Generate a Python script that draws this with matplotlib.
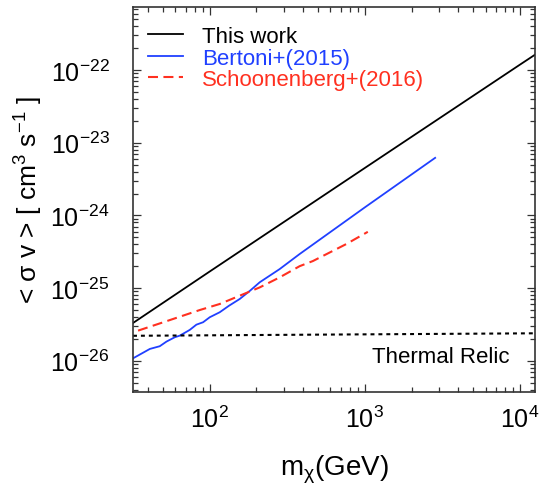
import matplotlib
matplotlib.use("Agg")
import matplotlib.pyplot as plt
import numpy as np
from matplotlib.ticker import FixedLocator, NullFormatter, LogFormatterSciNotation

plt.rcParams['font.family'] = ['Liberation Sans', 'DejaVu Sans']
plt.rcParams['mathtext.fontset'] = 'custom'
plt.rcParams['mathtext.rm'] = 'Liberation Sans'
plt.rcParams['mathtext.it'] = 'Liberation Sans:italic'
plt.rcParams['mathtext.bf'] = 'Liberation Sans:bold'
plt.rcParams['mathtext.sf'] = 'Liberation Sans'

# Data (GeV, cm^3 s^-1)
this_work_m = [32, 100, 1000, 10000, 12500]
this_work_sv = [3.3e-26, 1.69e-25, 4.5e-24, 1.19e-22, 1.63e-22]

bertoni_m = [32.1, 41.1, 47.6, 52.6, 59.5, 64.1, 74.3, 82.0, 90.6, 100, 116, 133, 156, 182, 210,
             282, 380, 1000, 2840]
bertoni_sv = [1.08e-26, 1.45e-26, 1.58e-26, 1.83e-26, 2.10e-26, 2.21e-26, 2.65e-26, 3.13e-26, 3.38e-26,
              3.96e-26, 4.64e-26, 5.7e-26, 7.06e-26, 9.2e-26, 1.20e-25,
              1.82e-25, 2.94e-25, 1.29e-24, 6.2e-24]

schoon_m = [34.5, 50.0, 86.3, 116, 156, 210, 282, 380, 462, 759, 1045]
schoon_sv = [2.59e-26, 3.37e-26, 4.98e-26, 6.03e-26, 7.84e-26, 1.02e-25, 1.40e-25, 2.0e-25, 2.35e-25,
             4.03e-25, 5.94e-25]

relic_m = [32, 12500]
relic_sv = [2.2e-26, 2.38e-26]

labels = ['This work', 'Bertoni+(2015)', 'Schoonenberg+(2016)']
x_major = [1e2, 1e3, 1e4]
y_major = [1e-26, 1e-25, 1e-24, 1e-23, 1e-22]

xlim = (32, 12500)
ylim = (3.7e-27, 7.4e-22)

fig = plt.figure(figsize=(5.42, 4.89), dpi=100)
ax = fig.add_axes([0.2454, 0.1963, 0.7416, 0.7873])

ax.plot(this_work_m, this_work_sv, color='black', lw=1.3, label=labels[0])
ax.plot(bertoni_m, bertoni_sv, color='#2040ff', lw=1.3, label=labels[1])
ax.plot(schoon_m, schoon_sv, color='#ff3020', lw=1.5, dashes=(4.8, 2.6), label=labels[2])
ax.plot(relic_m, relic_sv, color='black', lw=1.5, dashes=(1.9, 1.9))

ax.set_xscale('log')
ax.set_yscale('log')
ax.set_xlim(*xlim)
ax.set_ylim(*ylim)


def minors(lo, hi):
    out = []
    for e in range(int(np.floor(np.log10(lo))), int(np.ceil(np.log10(hi))) + 1):
        for s in range(2, 10):
            v = s * 10.0 ** e
            if lo <= v <= hi:
                out.append(v)
    return out


ax.xaxis.set_major_locator(FixedLocator(x_major))
ax.yaxis.set_major_locator(FixedLocator(y_major))
ax.xaxis.set_minor_locator(FixedLocator(minors(*xlim)))
ax.yaxis.set_minor_locator(FixedLocator(minors(*ylim)))
ax.xaxis.set_major_formatter(LogFormatterSciNotation())
ax.yaxis.set_major_formatter(LogFormatterSciNotation())
ax.xaxis.set_minor_formatter(NullFormatter())
ax.yaxis.set_minor_formatter(NullFormatter())

ax.tick_params(which='both', direction='in', top=True, right=True, width=0.9, color='#333333')
ax.tick_params(which='major', length=6)
ax.tick_params(which='minor', length=3.5)
ax.tick_params(axis='y', which='major', pad=17, labelsize=18)
ax.tick_params(axis='x', which='major', pad=10, labelsize=18)

for s in ax.spines.values():
    s.set_linewidth(1.2)
    s.set_color('#333333')

ax.set_xlabel('m$_{\\mathregular{χ}}$(GeV)', fontsize=20, labelpad=15)
ax.set_ylabel('< σ v > [ cm$^{\\mathregular{3}}$ s$^{\\mathregular{-1}}$ ]', fontsize=19, labelpad=4)

ax.text(0.938, 0.091, 'Thermal Relic', transform=ax.transAxes, ha='right', va='center', fontsize=16)

leg = ax.legend(loc='upper left', bbox_to_anchor=(0.037, 0.95), frameon=False, fontsize=16,
                handlelength=1.6, handletextpad=0.85, labelspacing=0.02, borderpad=0, borderaxespad=0,
                labelcolor='linecolor')

fig.savefig('out.png', dpi=100)
